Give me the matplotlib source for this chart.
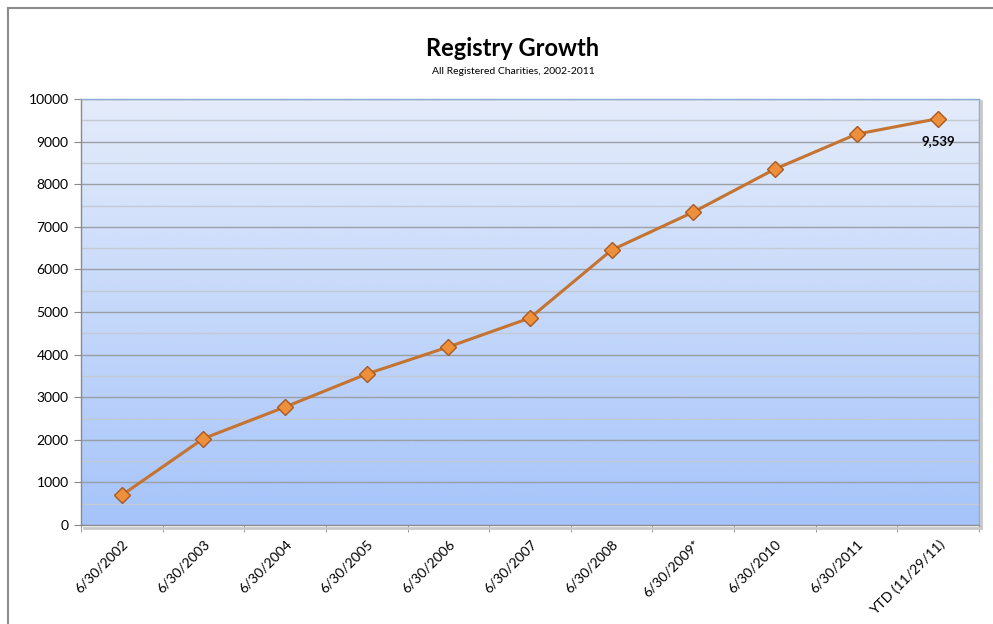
import numpy as np
import matplotlib
matplotlib.use("Agg")
import matplotlib.pyplot as plt
from matplotlib.lines import Line2D
from matplotlib.colors import LinearSegmentedColormap

categories = ["6/30/2002", "6/30/2003", "6/30/2004", "6/30/2005", "6/30/2006",
              "6/30/2007", "6/30/2008", "6/30/2009*", "6/30/2010", "6/30/2011",
              "YTD (11/29/11)"]
registered = [700, 2030, 2770, 3545, 4180, 4860, 6455, 7345, 8355, 9175, 9539]
y_ticks = [0, 1000, 2000, 3000, 4000, 5000, 6000, 7000, 8000, 9000, 10000]

plt.rcParams['font.family'] = ['Lato', 'DejaVu Sans']

fig = plt.figure(figsize=(9.93, 6.24), dpi=100)
ax = fig.add_axes([81/993, 1-525/624, 898/993, 426/624])

n = len(categories)
x = np.arange(n)
ax.set_xlim(-0.5, n - 0.5)
ax.set_ylim(0, 10000)

# gradient background
cmap = LinearSegmentedColormap.from_list("bg", ["#a6c4fa", "#e4ecfa"])
grad = np.linspace(0, 1, 256).reshape(-1, 1)
ax.imshow(grad, extent=[-0.5, n - 0.5, 0, 10000], origin="lower", aspect="auto",
          cmap=cmap, zorder=0)

# gridlines
for v in np.arange(500, 10000, 1000):
    ax.axhline(v, color="#c4cad4", lw=1.0, zorder=1)
for v in y_ticks[1:]:
    ax.axhline(v, color="#9a9fa6", lw=1.0, zorder=1)

ax.plot(x, registered, color="#c47330", lw=2.2, zorder=3)
ax.plot(x, registered, linestyle="none", marker="D", markersize=8.5,
        markerfacecolor="#ee8f3c", markeredgecolor="#a85a22", markeredgewidth=1.0,
        zorder=4)

ax.annotate(f"{registered[-1]:,}", (x[-1], registered[-1]), xytext=(0, -16),
            textcoords="offset points", ha="center", va="center",
            fontsize=9.5, fontweight="bold", zorder=5)

ax.set_yticks(y_ticks)
ax.set_yticklabels([str(v) for v in y_ticks], fontsize=10)
ax.tick_params(axis="y", direction="out", length=5, color="#888888", pad=4)

ax.set_xticks(x)
ax.set_xticklabels(categories, rotation=45, ha="right", rotation_mode="anchor",
                   fontsize=10)
ax.tick_params(axis="x", which="major", length=0, pad=9)
ax.set_xticks(np.arange(-0.5, n, 1.0), minor=True)
ax.tick_params(axis="x", which="minor", direction="out", length=5, color="#888888")

for s in ["top", "right"]:
    ax.spines[s].set_color("#8eaad6")
    ax.spines[s].set_linewidth(1.0)
for s in ["left", "bottom"]:
    ax.spines[s].set_color("#8a8a8a")
    ax.spines[s].set_linewidth(1.0)

# shadow on right/bottom
fig.add_artist(Line2D([981/993, 981/993], [1-101/624, 1-528/624], color="#c8c8c8", lw=2))
fig.add_artist(Line2D([84/993, 981/993], [1-528/624, 1-528/624], color="#c8c8c8", lw=2))

fig.text(513/993, 1-49/624, "Registry Growth", ha="center", va="center",
         fontsize=17, fontweight="bold")
fig.text(513/993, 1-72/624, "All Registered Charities, 2002-2011", ha="center",
         va="center", fontsize=7.5)

# outer chart border (left and top visible)
fig.add_artist(Line2D([7.5/993, 7.5/993], [0, 1-8/624], color="#8c8c8c", lw=1.5))
fig.add_artist(Line2D([7.5/993, 1], [1-8/624, 1-8/624], color="#8c8c8c", lw=1.5))

fig.savefig("out.png", dpi=100, facecolor="white")
